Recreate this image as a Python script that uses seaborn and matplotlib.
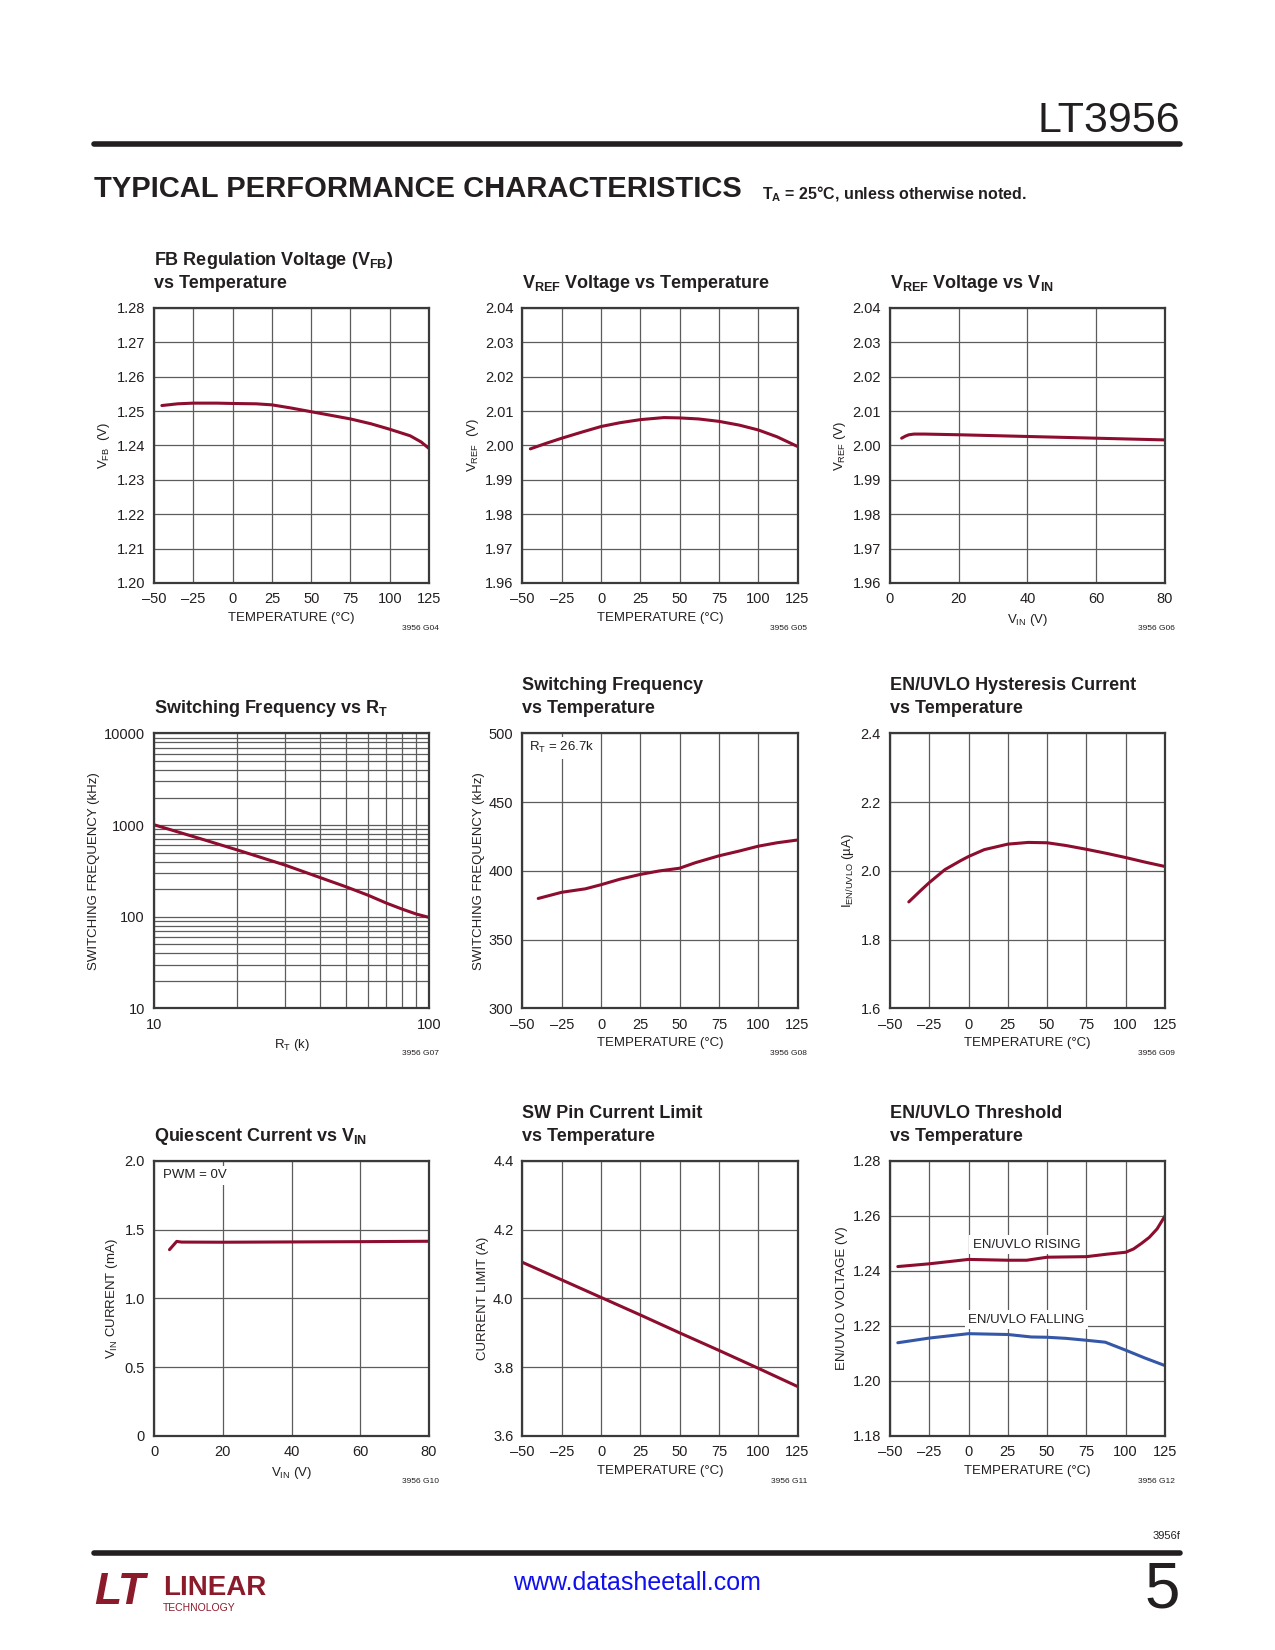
import matplotlib
matplotlib.use('Agg')
import matplotlib.pyplot as plt
import seaborn as sns
from matplotlib.lines import Line2D
from matplotlib.ticker import LogLocator, NullFormatter

# ---- values ----
# FB regulation voltage vs temperature
fb_temp = [-45, -35, -25, -10, 0, 15, 25, 37, 50, 62, 75, 88, 100, 113, 120, 125]
fb_vfb = [1.2516, 1.2521, 1.2523, 1.2523, 1.2522, 1.2521, 1.2518, 1.2509, 1.2498,
          1.2488, 1.2477, 1.2463, 1.2447, 1.2428, 1.2410, 1.2391]

# VREF vs temperature
vref_temp = [-45, -35, -25, -12, 0, 12, 25, 40, 50, 62, 75, 88, 100, 112, 125]
vref_v = [1.9990, 2.0006, 2.0021, 2.0039, 2.0055, 2.0066, 2.0075, 2.0081, 2.0080,
          2.0077, 2.0070, 2.0059, 2.0045, 2.0025, 1.9997]

# VREF vs VIN
vin_v = [3.4, 4.5, 5.5, 7, 10, 20, 40, 60, 80]
vref_vin = [2.0021, 2.0027, 2.0031, 2.0033, 2.0033, 2.0031, 2.0026, 2.0021, 2.0016]

# switching frequency vs RT
rt_k = [10, 15, 20, 30, 40, 50, 60, 70, 80, 90, 100]
fsw_khz = [1009, 700, 538, 366, 269, 212, 172, 141, 121, 107, 98.5]

# switching frequency vs temperature (RT = 26.7k)
fs_temp = [-40, -25, -10, 0, 12, 25, 37, 50, 60, 75, 88, 100, 112, 125]
fs_khz = [380, 384.5, 387, 390, 394, 397.5, 400, 402, 406, 411, 414.5, 418, 420.5, 422.5]

# EN/UVLO hysteresis current vs temperature
hys_temp = [-38, -30, -25, -15, -5, 0, 10, 25, 38, 50, 62, 75, 88, 100, 112, 125]
hys_ua = [1.910, 1.945, 1.966, 2.004, 2.030, 2.042, 2.062, 2.078, 2.083, 2.082,
          2.074, 2.063, 2.051, 2.039, 2.026, 2.013]

# quiescent current vs VIN
iq_vin = [4.5, 6.6, 8, 20, 40, 60, 80]
iq_ma = [1.355, 1.415, 1.410, 1.409, 1.411, 1.413, 1.416]

# SW pin current limit vs temperature
ilim_temp = [-50, -25, 0, 25, 50, 75, 100, 125]
ilim_a = [4.105, 4.054, 4.003, 3.952, 3.900, 3.849, 3.797, 3.744]

# EN/UVLO threshold vs temperature
uv_rise_temp = [-45, -25, 0, 25, 37, 50, 62, 75, 88, 100, 105, 110, 115, 120, 125]
uv_rise = [1.2416, 1.2426, 1.2442, 1.2439, 1.2439, 1.2450, 1.2451, 1.2452, 1.2461,
           1.2468, 1.2480, 1.2500, 1.2522, 1.2553, 1.2600]
uv_fall_temp = [-45, -25, 0, 25, 40, 50, 62, 75, 87, 100, 112, 125]
uv_fall = [1.2139, 1.2156, 1.2172, 1.2169, 1.2160, 1.2159, 1.2155, 1.2148, 1.2141,
           1.2112, 1.2084, 1.2056]

# tick values / labels
temp_ticks = [-50, -25, 0, 25, 50, 75, 100, 125]
temp_labels = ['–50', '–25', '0', '25', '50', '75', '100', '125']
vin_ticks = [0, 20, 40, 60, 80]
vfb_ticks = [1.20, 1.21, 1.22, 1.23, 1.24, 1.25, 1.26, 1.27, 1.28]
vref_ticks = [1.96, 1.97, 1.98, 1.99, 2.00, 2.01, 2.02, 2.03, 2.04]
fs_ticks = [300, 350, 400, 450, 500]
hys_ticks = [1.6, 1.8, 2.0, 2.2, 2.4]
iq_ticks = [0, 0.5, 1.0, 1.5, 2.0]
iq_labels = ['0', '0.5', '1.0', '1.5', '2.0']
ilim_ticks = [3.6, 3.8, 4.0, 4.2, 4.4]
uv_ticks = [1.18, 1.20, 1.22, 1.24, 1.26, 1.28]

sns.set_theme(style='white')
plt.rcParams['font.family'] = ['Liberation Sans', 'DejaVu Sans']
plt.rcParams['axes.unicode_minus'] = False

RED = '#8c0d2e'
BLUE = '#3557a8'
GRID = '#5c5c5c'
INK = '#231f20'
LW = 2.2

fig = plt.figure(figsize=(12.75, 16.5), dpi=100)

col_x = [0.1208, 0.4098, 0.6980]
row_y = [0.6467, 0.3888, 0.1297]
W, H = 0.2157, 0.1667


def panel(r, c, title_lines, code, xlabel, ylabel):
    ax = fig.add_axes([col_x[c], row_y[r], W, H])
    ax.set_axisbelow(True)
    ax.grid(True, color=GRID, lw=0.9)
    for s in ax.spines.values():
        s.set_visible(True)
        s.set_color('#3a3a3a')
        s.set_linewidth(1.6)
    ax.tick_params(length=0, pad=6.5, labelsize=10.5, colors=INK)
    n = len(title_lines)
    for i, line in enumerate(title_lines):
        ax.text(0, 1 + (20 + 23 * (n - 1 - i)) / 275, line, transform=ax.transAxes,
                ha='left', va='baseline', fontsize=13, fontweight='bold', color=INK)
    ax.text(1.035, -0.165, code, transform=ax.transAxes, ha='right', va='center',
            fontsize=6, color=INK)
    ax.set_xlabel(xlabel, fontsize=9.5, labelpad=4, color=INK)
    ax.set_ylabel(ylabel, fontsize=9.5, labelpad=3, color=INK)
    return ax


def temp_axis(ax):
    ax.set_xlim(-50, 125)
    ax.set_xticks(temp_ticks)
    ax.set_xticklabels(temp_labels)


def boxed(ax, x, y, s, ha='left'):
    ax.text(x, y, s, transform=ax.transAxes, ha=ha, va='center', fontsize=9.5,
            color=INK, bbox=dict(facecolor='white', edgecolor='none', pad=2.5))


# --- row 1 ---
ax = panel(0, 0, ['FB Regulation Voltage (V$\\mathregular{_{FB}}$)', 'vs Temperature'],
           '3956 G04', 'TEMPERATURE (°C)', 'V$\\mathregular{_{FB}}$  (V)')
sns.lineplot(x=fb_temp, y=fb_vfb, ax=ax, color=RED, lw=LW, sort=False, estimator=None)
temp_axis(ax)
ax.set_ylim(1.20, 1.28)
ax.set_yticks(vfb_ticks)
ax.set_yticklabels([f'{v:.2f}' for v in vfb_ticks])

ax = panel(0, 1, ['V$\\mathregular{_{REF}}$ Voltage vs Temperature'],
           '3956 G05', 'TEMPERATURE (°C)', 'V$\\mathregular{_{REF}}$  (V)')
sns.lineplot(x=vref_temp, y=vref_v, ax=ax, color=RED, lw=LW, sort=False, estimator=None)
temp_axis(ax)
ax.set_ylim(1.96, 2.04)
ax.set_yticks(vref_ticks)
ax.set_yticklabels([f'{v:.2f}' for v in vref_ticks])

ax = panel(0, 2, ['V$\\mathregular{_{REF}}$ Voltage vs V$\\mathregular{_{IN}}$'],
           '3956 G06', 'V$\\mathregular{_{IN}}$ (V)', 'V$\\mathregular{_{REF}}$ (V)')
sns.lineplot(x=vin_v, y=vref_vin, ax=ax, color=RED, lw=LW, sort=False, estimator=None)
ax.set_xlim(0, 80)
ax.set_xticks(vin_ticks)
ax.set_ylim(1.96, 2.04)
ax.set_yticks(vref_ticks)
ax.set_yticklabels([f'{v:.2f}' for v in vref_ticks])

# --- row 2 ---
ax = panel(1, 0, ['Switching Frequency vs R$\\mathregular{_T}$'],
           '3956 G07', 'R$\\mathregular{_T}$ (k)', 'SWITCHING FREQUENCY (kHz)')
sns.lineplot(x=rt_k, y=fsw_khz, ax=ax, color=RED, lw=LW, sort=False, estimator=None)
ax.set_xscale('log')
ax.set_yscale('log')
ax.set_xlim(10, 100)
ax.set_ylim(10, 10000)
ax.set_xticks([10, 100])
ax.set_xticklabels(['10', '100'])
ax.set_yticks([10, 100, 1000, 10000])
ax.set_yticklabels(['10', '100', '1000', '10000'])
ax.xaxis.set_minor_locator(LogLocator(base=10, subs=range(2, 10)))
ax.yaxis.set_minor_locator(LogLocator(base=10, subs=range(2, 10)))
ax.xaxis.set_minor_formatter(NullFormatter())
ax.yaxis.set_minor_formatter(NullFormatter())
ax.tick_params(which='minor', length=0)
ax.grid(True, which='both', color=GRID, lw=0.9)

ax = panel(1, 1, ['Switching Frequency', 'vs Temperature'],
           '3956 G08', 'TEMPERATURE (°C)', 'SWITCHING FREQUENCY (kHz)')
sns.lineplot(x=fs_temp, y=fs_khz, ax=ax, color=RED, lw=LW, sort=False, estimator=None)
temp_axis(ax)
ax.set_ylim(300, 500)
ax.set_yticks(fs_ticks)
boxed(ax, 0.024, 0.948, 'R$\\mathregular{_T}$ = 26.7k')

ax = panel(1, 2, ['EN/UVLO Hysteresis Current', 'vs Temperature'],
           '3956 G09', 'TEMPERATURE (°C)', 'I$\\mathregular{_{EN/UVLO}}$ (µA)')
sns.lineplot(x=hys_temp, y=hys_ua, ax=ax, color=RED, lw=LW, sort=False, estimator=None)
temp_axis(ax)
ax.set_ylim(1.6, 2.4)
ax.set_yticks(hys_ticks)
ax.set_yticklabels([f'{v:.1f}' for v in hys_ticks])

# --- row 3 ---
ax = panel(2, 0, ['Quiescent Current vs V$\\mathregular{_{IN}}$'],
           '3956 G10', 'V$\\mathregular{_{IN}}$ (V)', 'V$\\mathregular{_{IN}}$ CURRENT (mA)')
sns.lineplot(x=iq_vin, y=iq_ma, ax=ax, color=RED, lw=LW, sort=False, estimator=None)
ax.set_xlim(0, 80)
ax.set_xticks(vin_ticks)
ax.set_ylim(0, 2.0)
ax.set_yticks(iq_ticks)
ax.set_yticklabels(iq_labels)
boxed(ax, 0.034, 0.948, 'PWM = 0V')

ax = panel(2, 1, ['SW Pin Current Limit', 'vs Temperature'],
           '3956 G11', 'TEMPERATURE (°C)', 'CURRENT LIMIT (A)')
sns.lineplot(x=ilim_temp, y=ilim_a, ax=ax, color=RED, lw=LW, sort=False, estimator=None)
temp_axis(ax)
ax.set_ylim(3.6, 4.4)
ax.set_yticks(ilim_ticks)
ax.set_yticklabels([f'{v:.1f}' for v in ilim_ticks])

ax = panel(2, 2, ['EN/UVLO Threshold', 'vs Temperature'],
           '3956 G12', 'TEMPERATURE (°C)', 'EN/UVLO VOLTAGE (V)')
sns.lineplot(x=uv_rise_temp, y=uv_rise, ax=ax, color=RED, lw=LW, sort=False, estimator=None)
sns.lineplot(x=uv_fall_temp, y=uv_fall, ax=ax, color=BLUE, lw=LW, sort=False, estimator=None)
temp_axis(ax)
ax.set_ylim(1.18, 1.28)
ax.set_yticks(uv_ticks)
ax.set_yticklabels([f'{v:.2f}' for v in uv_ticks])
boxed(ax, 0.497, 0.696, 'EN/UVLO RISING', ha='center')
boxed(ax, 0.497, 0.423, 'EN/UVLO FALLING', ha='center')

# ---- page header ----
fig.text(0.9255, 0.9267, 'LT3956', ha='right', va='center', fontsize=31, color=INK)
fig.add_artist(Line2D([0.0737, 0.9255], [1 - 144 / 1650] * 2, color=INK, lw=4))
fig.text(0.0737, 1 - 189 / 1650, 'TYPICAL PERFORMANCE CHARACTERISTICS', ha='left',
         va='center', fontsize=21, fontweight='bold', color=INK)
fig.text(0.598, 1 - 194 / 1650, 'T$\\mathregular{_A}$ = 25°C, unless otherwise noted.',
         ha='left', va='center', fontsize=11.5, fontweight='bold', color=INK)

# ---- page footer ----
fig.text(0.9255, 1 - 1536 / 1650, '3956f', ha='right', va='center', fontsize=8, color=INK)
fig.add_artist(Line2D([0.0737, 0.9255], [1 - 1553 / 1650] * 2, color=INK, lw=4))
LOGO = '#8b1a2b'
fig.text(0.074, 1 - 1593 / 1650, 'LT', ha='left', va='center', fontsize=32,
         fontweight='bold', style='italic', color=LOGO)
fig.text(0.128, 1 - 1588 / 1650, 'LINEAR', ha='left', va='center', fontsize=20,
         fontweight='bold', color=LOGO)
fig.text(0.128, 1 - 1608 / 1650, 'TECHNOLOGY', ha='left', va='center', fontsize=7.5,
         color=LOGO)
fig.text(0.4996, 1 - 1583 / 1650, 'www.datasheetall.com', ha='center', va='center',
         fontsize=18, color='#1010ee')
fig.text(0.9255, 1 - 1591 / 1650, '5', ha='right', va='center', fontsize=46, color=INK)

fig.savefig('out.png', dpi=100, facecolor='white')
